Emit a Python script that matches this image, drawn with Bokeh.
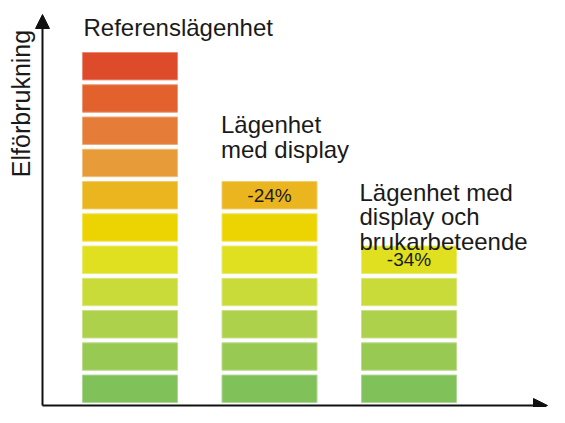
from math import pi
from bokeh.plotting import figure
from bokeh.models import Range1d, Arrow, NormalHead, ColumnDataSource
from bokeh.core.properties import value
from bokeh.embed import file_html
from bokeh.resources import INLINE

# ---- data ----
categories = ["Referenslägenhet", "Lägenhet med display",
              "Lägenhet med display och brukarbeteende"]
label_lines = [["Referenslägenhet"],
               ["Lägenhet", "med display"],
               ["Lägenhet med", "display och", "brukarbeteende"]]
segment_counts = [11, 7, 5]
reduction_labels = ["", "-24%", "-34%"]
level_colors = ["#80C15A", "#98C953", "#ADD14A", "#C8DB38", "#E0E020",
                "#ECD402", "#EBB51F", "#E89B39", "#E57C37", "#E2612D", "#DD4B2B"]
y_axis_title = "Elförbrukning"

# ---- layout constants ----
W, H = 549, 407
PX_X = 139.5          # pixels per category step
SEG = 0.85            # filled fraction of a segment step
BAR_W = 95 / PX_X
FONT = "Liberation Sans"
TXT = "#1a1a1a"
BAR_BOTTOM_PX = 402
BAR_TOP_PX = 52
top_units = max(segment_counts) - (1 - SEG)
PX_Y = (BAR_BOTTOM_PX - BAR_TOP_PX) / top_units

x_start = -129.5 / PX_X
x_end = x_start + W / PX_X
y_end = top_units + BAR_TOP_PX / PX_Y
y_start = y_end - H / PX_Y


def fx(px):
    return x_start + px / PX_X


def fy(px):
    return y_end - px / PX_Y


def lighten(hex_color, f):
    r, g, b = (int(hex_color[i:i + 2], 16) for i in (1, 3, 5))
    r, g, b = (int(c + (255 - c) * f) for c in (r, g, b))
    return "#%02x%02x%02x" % (r, g, b)


p = figure(width=W, height=H, output_backend="svg", toolbar_location=None,
           x_range=Range1d(x_start, x_end), y_range=Range1d(y_start, y_end),
           x_axis_location=None, y_axis_location=None, min_border=0,
           background_fill_color="white", border_fill_color="white")
p.outline_line_color = None
p.xgrid.visible = False
p.ygrid.visible = False

# segments
xs, ys, cols, lcols = [], [], [], []
for i, n in enumerate(segment_counts):
    for lvl in range(n):
        xs.append(i)
        ys.append(lvl + SEG / 2)
        cols.append(level_colors[lvl])
        lcols.append(lighten(level_colors[lvl], 0.35))
src = ColumnDataSource(dict(x=xs, y=ys, c=cols, lc=lcols))
p.rect(x="x", y="y", width=BAR_W, height=SEG, fill_color="c",
       line_color="lc", line_width=1, source=src)

# reduction labels in the top segment
rx, ry, rt = [], [], []
for i, (n, lab) in enumerate(zip(segment_counts, reduction_labels)):
    if lab:
        rx.append(i)
        ry.append(n - 1 + SEG / 2)
        rt.append(lab)
p.text(x=rx, y=ry, text=rt, text_font=value(FONT), text_font_size="19px",
       text_align="center", text_baseline="middle", text_color=TXT)

# category labels above bars
first_base_px = [25, 57, 54]
line_gap_px = 24.5
dx_px = [1, -1, -2]
lx, ly, lt = [], [], []
for i, (n, lines) in enumerate(zip(segment_counts, label_lines)):
    top = n - 1 + SEG
    for k, line in enumerate(lines):
        lx.append(i - BAR_W / 2 + dx_px[i] / PX_X)
        ly.append(top + (first_base_px[i] - k * line_gap_px) / PX_Y)
        lt.append(line)
p.text(x=lx, y=ly, text=lt, text_font=value(FONT), text_font_size="24px",
       text_align="left", text_baseline="alphabetic", text_color=TXT)

# axes with arrows
ax_x = fx(42)
ax_y = fy(BAR_BOTTOM_PX + 3)
head = dict(size=14, fill_color="#111111", line_color="#111111")
p.add_layout(Arrow(end=NormalHead(**head),
                   x_start=ax_x, y_start=ax_y, x_end=ax_x, y_end=fy(14),
                   line_width=2, line_color="#111111"))
p.add_layout(Arrow(end=NormalHead(**head),
                   x_start=ax_x, y_start=ax_y, x_end=fx(547), y_end=ax_y,
                   line_width=2, line_color="#111111"))

# y axis title
p.text(x=[fx(20)], y=[fy(103)], text=[y_axis_title],
       angle=pi / 2, text_font=value(FONT), text_font_size="25px",
       text_align="center", text_baseline="middle", text_color=TXT)

open("out.html", "w").write(file_html(p, INLINE))
